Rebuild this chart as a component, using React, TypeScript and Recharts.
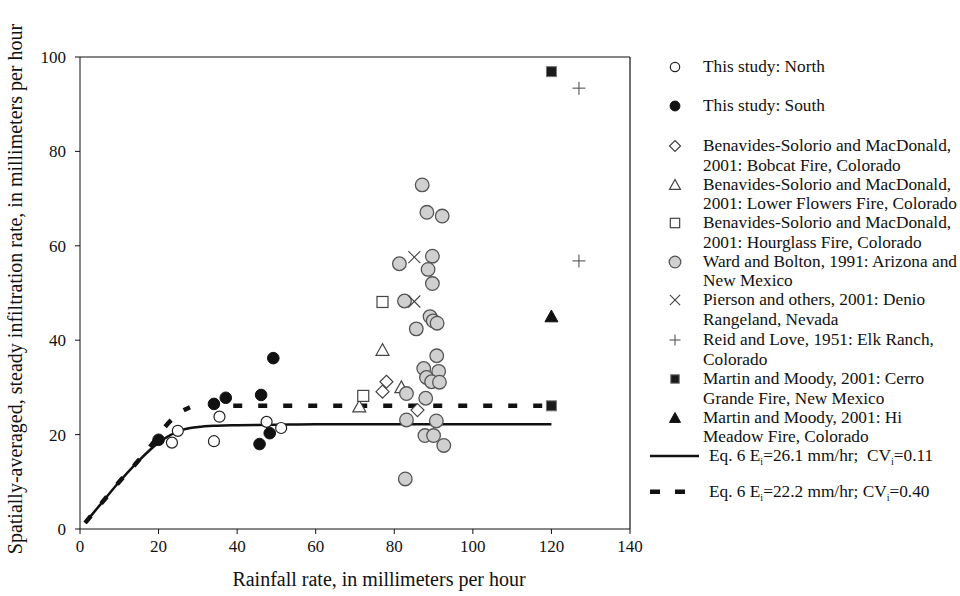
import React from 'react';
import { ComposedChart, Scatter, Line, XAxis, YAxis, ReferenceLine } from 'recharts';

// values (rainfall rate x, infiltration rate y)
const northX = [23.4, 24.9, 34.1, 35.5, 47.5, 51.2];
const northY = [18.3, 20.8, 18.6, 23.8, 22.7, 21.4];

const southX = [20.0, 34.1, 37.1, 46.1, 49.2, 45.7, 48.3];
const southY = [18.9, 26.5, 27.8, 28.4, 36.2, 18.0, 20.3];

const bobcatX = [78.0, 77.0, 85.9];
const bobcatY = [31.2, 29.1, 25.2];

const lowerFlowersX = [77.0, 71.1, 81.8];
const lowerFlowersY = [37.9, 25.9, 30.0];

const hourglassX = [77.0, 72.1];
const hourglassY = [48.1, 28.2];

const wardX = [87.1, 88.3, 92.2, 81.3, 89.7, 88.6, 89.7, 82.6, 89.1, 89.9, 90.9, 85.6, 90.8, 87.5, 91.3, 88.2, 89.5, 91.5, 83.1, 88.0, 83.1, 90.7, 87.8, 90.0, 92.6, 82.8];
const wardY = [72.9, 67.1, 66.3, 56.2, 57.8, 55.0, 52.0, 48.3, 45.0, 44.1, 43.6, 42.4, 36.7, 34.0, 33.4, 32.1, 31.2, 31.1, 28.7, 27.7, 23.1, 22.9, 19.8, 19.8, 17.7, 10.6];

const piersonX = [85.1, 85.1];
const piersonY = [57.6, 48.2];

const reidX = [127.0, 127.0];
const reidY = [93.4, 56.8];

const cerroX = [120.0, 120.0];
const cerroY = [96.9, 26.1];

const hiMeadowX = [120.0];
const hiMeadowY = [45.0];

const solidX = [1.3, 5, 10, 15, 20, 25, 30, 35, 40, 50, 60, 80, 100, 120];
const solidY = [1.3, 5, 10, 14.5, 18.3, 20.7, 21.6, 21.9, 22.0, 22.1, 22.2, 22.2, 22.2, 22.2];

const dashedX = [1.3, 5, 10, 15, 18, 22, 25, 28, 33, 39, 60, 80, 100, 120];
const dashedY = [1.3, 5, 10, 14.6, 17.6, 22.0, 24.4, 25.8, null, 26.1, 26.1, 26.1, 26.1, 26.1];

const xTicks = [0, 20, 40, 60, 80, 100, 120, 140];
const yTicks = [0, 20, 40, 60, 80, 100];

const pts = (xs: number[], ys: (number | null)[]) => xs.map((x, i) => ({ x, y: ys[i] }));

const FONT = '"Liberation Serif", "Times New Roman", serif';

type Kind =
  | 'open' | 'filled' | 'diamond' | 'triangle' | 'square' | 'gray'
  | 'cross' | 'plus' | 'fsquare' | 'ftriangle';

function marker(kind: Kind, cx: number, cy: number, s = 1) {
  switch (kind) {
    case 'open':
      return <circle cx={cx} cy={cy} r={5.5 * s} fill="#fff" stroke="#222" strokeWidth={1.2} />;
    case 'filled':
      return <circle cx={cx} cy={cy} r={5.8 * s} fill="#111" stroke="#111" />;
    case 'diamond': {
      const d = 6.5 * s;
      return <polygon points={`${cx},${cy - d} ${cx + d},${cy} ${cx},${cy + d} ${cx - d},${cy}`} fill="#fff" stroke="#444" strokeWidth={1.2} />;
    }
    case 'triangle': {
      const d = 6.5 * s;
      return <polygon points={`${cx},${cy - d} ${cx + d},${cy + d * 0.8} ${cx - d},${cy + d * 0.8}`} fill="#fff" stroke="#444" strokeWidth={1.2} />;
    }
    case 'square': {
      const d = 5.5 * s;
      return <rect x={cx - d} y={cy - d} width={2 * d} height={2 * d} fill="#fff" stroke="#444" strokeWidth={1.2} />;
    }
    case 'gray':
      return <circle cx={cx} cy={cy} r={6.8 * s} fill="#d0d0d0" stroke="#555" strokeWidth={1.3} />;
    case 'cross': {
      const d = 6 * s;
      return (
        <g stroke="#444" strokeWidth={1.1}>
          <line x1={cx - d} y1={cy - d} x2={cx + d} y2={cy + d} />
          <line x1={cx - d} y1={cy + d} x2={cx + d} y2={cy - d} />
        </g>
      );
    }
    case 'plus': {
      const d = 6.5 * s;
      return (
        <g stroke="#555" strokeWidth={1.1}>
          <line x1={cx - d} y1={cy} x2={cx + d} y2={cy} />
          <line x1={cx} y1={cy - d} x2={cx} y2={cy + d} />
        </g>
      );
    }
    case 'fsquare': {
      const d = 5 * s;
      return <rect x={cx - d} y={cy - d} width={2 * d} height={2 * d} fill="#1a1a1a" stroke="#777" strokeWidth={1} />;
    }
    case 'ftriangle': {
      const d = 6.5 * s;
      return <polygon points={`${cx},${cy - d} ${cx + d},${cy + d * 0.8} ${cx - d},${cy + d * 0.8}`} fill="#111" stroke="#111" />;
    }
  }
}

const shapeOf = (kind: Kind) => (p: any) => marker(kind, p.cx, p.cy);

const series: { kind: Kind; xs: number[]; ys: number[] }[] = [
  { kind: 'diamond', xs: bobcatX, ys: bobcatY },
  { kind: 'triangle', xs: lowerFlowersX, ys: lowerFlowersY },
  { kind: 'square', xs: hourglassX, ys: hourglassY },
  { kind: 'gray', xs: wardX, ys: wardY },
  { kind: 'cross', xs: piersonX, ys: piersonY },
  { kind: 'plus', xs: reidX, ys: reidY },
  { kind: 'fsquare', xs: cerroX, ys: cerroY },
  { kind: 'ftriangle', xs: hiMeadowX, ys: hiMeadowY },
  { kind: 'open', xs: northX, ys: northY },
  { kind: 'filled', xs: southX, ys: southY },
];

const legendItems: { kind: Kind; lines: string[] }[] = [
  { kind: 'open', lines: ['This study: North'] },
  { kind: 'filled', lines: ['This study: South'] },
  { kind: 'diamond', lines: ['Benavides-Solorio and MacDonald,', '2001: Bobcat Fire, Colorado'] },
  { kind: 'triangle', lines: ['Benavides-Solorio and MacDonald,', '2001: Lower Flowers Fire, Colorado'] },
  { kind: 'square', lines: ['Benavides-Solorio and MacDonald,', '2001: Hourglass Fire, Colorado'] },
  { kind: 'gray', lines: ['Ward and Bolton, 1991: Arizona and', 'New Mexico'] },
  { kind: 'cross', lines: ['Pierson and others, 2001: Denio', 'Rangeland, Nevada'] },
  { kind: 'plus', lines: ['Reid and Love, 1951: Elk Ranch,', 'Colorado'] },
  { kind: 'fsquare', lines: ['Martin and Moody, 2001: Cerro', 'Grande Fire, New Mexico'] },
  { kind: 'ftriangle', lines: ['Martin and Moody, 2001: Hi', 'Meadow Fire, Colorado'] },
];
const legendCenters = [67, 105.5, 146, 184.5, 223, 261.5, 300, 340, 379, 417.5];
const LH = 19.3;
const LFS = 17.3;

function Legend() {
  return (
    <>
      {legendItems.map((it, i) => (
        <React.Fragment key={i}>
          <svg style={{ position: 'absolute', left: 665, top: legendCenters[i] - 10 }} width={20} height={20}>
            {marker(it.kind, 10, 10, 0.85)}
          </svg>
          <div style={{ position: 'absolute', left: 703, top: legendCenters[i] - LH / 2, lineHeight: `${LH}px`, fontSize: LFS, whiteSpace: 'nowrap' }}>
            {it.lines.map((l, j) => <div key={j}>{l}</div>)}
          </div>
        </React.Fragment>
      ))}
      <svg style={{ position: 'absolute', left: 648, top: 446 }} width={60} height={56}>
        <line x1={2} y1={10} x2={51} y2={10} stroke="#111" strokeWidth={2.5} />
        <line x1={2} y1={45.7} x2={40} y2={45.7} stroke="#111" strokeWidth={4.5} strokeDasharray="10 15" />
      </svg>
      <div style={{ position: 'absolute', left: 709, top: 456 - LH / 2, lineHeight: `${LH}px`, fontSize: LFS, whiteSpace: 'pre' }}>
        Eq. 6 E<sub style={{ fontSize: 10 }}>i</sub>=26.1 mm/hr;  CV<sub style={{ fontSize: 10 }}>i</sub>=0.11
      </div>
      <div style={{ position: 'absolute', left: 709, top: 491.7 - LH / 2, lineHeight: `${LH}px`, fontSize: LFS, whiteSpace: 'pre' }}>
        Eq. 6 E<sub style={{ fontSize: 10 }}>i</sub>=22.2 mm/hr; CV<sub style={{ fontSize: 10 }}>i</sub>=0.40
      </div>
    </>
  );
}

export default function App() {
  const tick = { fill: '#111', fontSize: 17, fontFamily: FONT };
  return (
    <div style={{ position: 'absolute', left: 0, top: 0, width: 960, height: 596, background: '#fff', fontFamily: FONT, color: '#111', overflow: 'hidden' }}>
      <ComposedChart width={960} height={596} margin={{ top: 57, right: 330, left: 20, bottom: 27 }}>
        <XAxis
          type="number"
          dataKey="x"
          domain={[0, 140]}
          ticks={xTicks}
          tick={tick}
          tickSize={5}
          tickMargin={6}
          stroke="#111"
          height={40}
          allowDataOverflow
        />
        <YAxis
          type="number"
          dataKey="y"
          domain={[0, 100]}
          ticks={yTicks}
          tick={tick}
          tickSize={5}
          tickMargin={9}
          stroke="#111"
          width={60}
          allowDataOverflow
        />
        <ReferenceLine y={100} stroke="#111" strokeWidth={1.2} />
        <ReferenceLine x={140} stroke="#111" strokeWidth={1.2} />
        <Line
          data={pts(solidX, solidY)}
          dataKey="y"
          type="monotone"
          stroke="#111"
          strokeWidth={2.5}
          dot={false}
          activeDot={false}
          isAnimationActive={false}
        />
        <Line
          data={pts(dashedX, dashedY)}
          dataKey="y"
          type="monotone"
          stroke="#111"
          strokeWidth={4.5}
          strokeDasharray="9 16"
          dot={false}
          activeDot={false}
          isAnimationActive={false}
        />
        {series.map((s, i) => (
          <Scatter
            key={i}
            data={pts(s.xs, s.ys)}
            dataKey="y"
            shape={shapeOf(s.kind)}
            isAnimationActive={false}
          />
        ))}
      </ComposedChart>
      <div style={{ position: 'absolute', left: 379, top: 579, transform: 'translate(-50%, -50%)', fontSize: 20, whiteSpace: 'nowrap' }}>
        Rainfall rate, in millimeters per hour
      </div>
      <div style={{ position: 'absolute', left: 15, top: 289, transform: 'translate(-50%, -50%) rotate(-90deg)', fontSize: 20, whiteSpace: 'nowrap' }}>
        Spatially-averaged, steady infiltration rate, in millimeters per hour
      </div>
      <Legend />
    </div>
  );
}
